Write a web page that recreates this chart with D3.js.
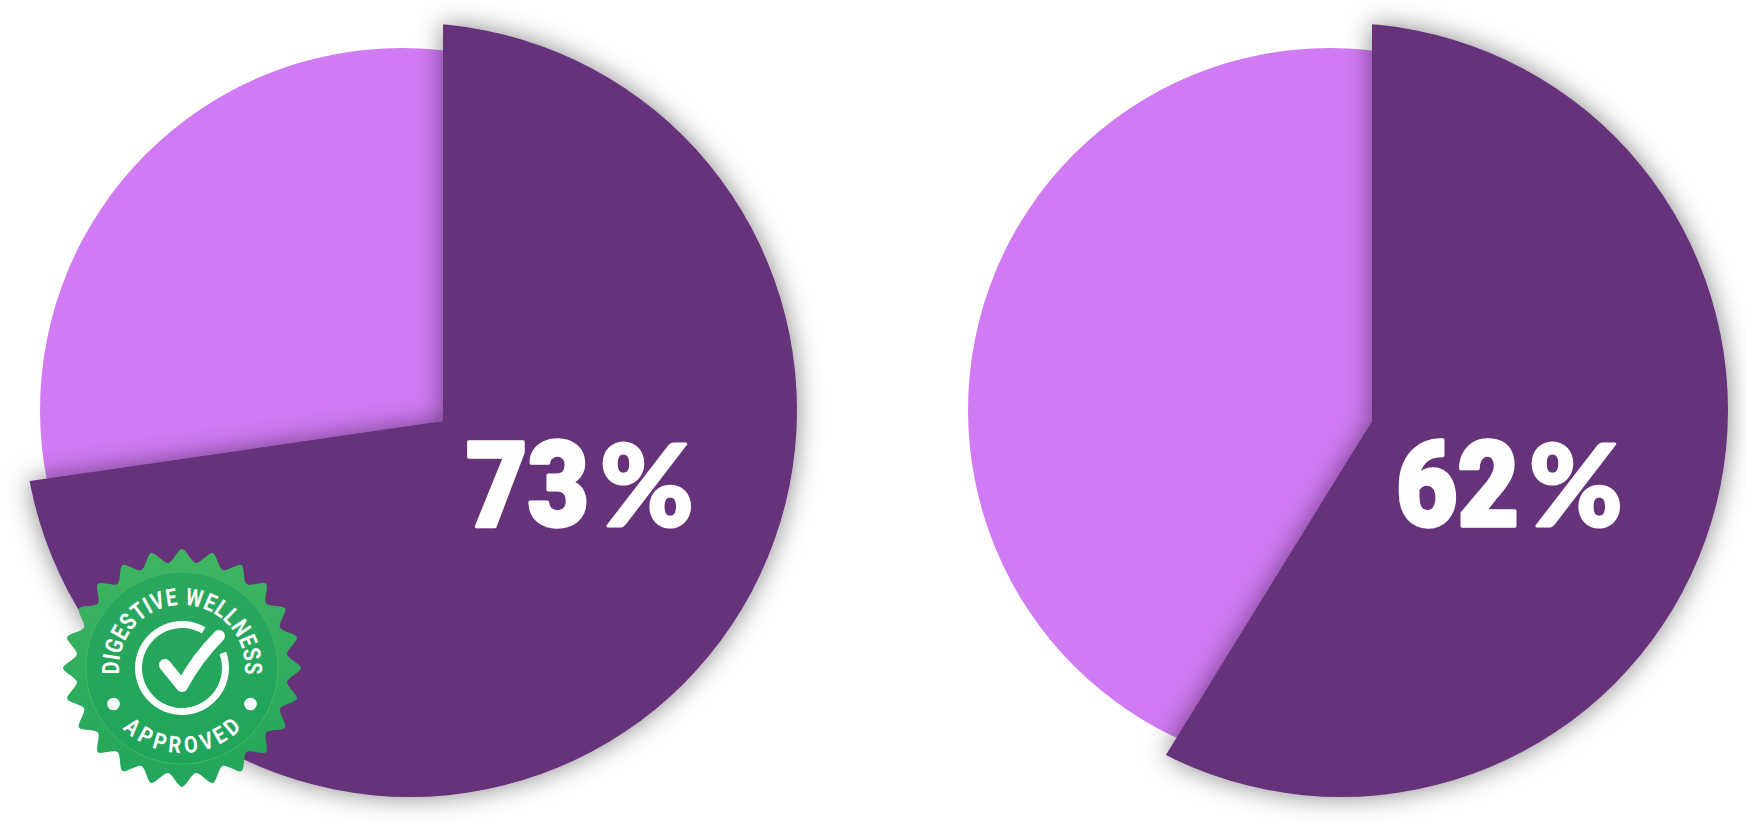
<!DOCTYPE html>
<html><head><meta charset="utf-8">
<script src="https://cdn.jsdelivr.net/npm/d3@7"></script>
<style>html,body{margin:0;background:#fff;overflow:hidden}svg{display:block}</style>
</head><body><svg id="c" width="1746" height="823"></svg>
<script>
const labels = ["73", "62"];
const labelSuffix = "%";
const darkShare = [72.7, 58.8];   // share of the circle as actually drawn
const darkColor = "#663079", lightColor = "#d07af3";
const badgeTop = "DIGESTIVE WELLNESS", badgeBottom = "APPROVED";

const svg = d3.select("#c"), defs = svg.append("defs");
const f = defs.append("filter").attr("id","sh").attr("x","-20%").attr("y","-20%").attr("width","140%").attr("height","140%");
f.append("feDropShadow").attr("dx",0).attr("dy",0).attr("stdDeviation",13).attr("flood-color","#000").attr("flood-opacity",0.47);

const layouts = [
 {apex:[443,421], light:[402,410,362], dark:[410,410,387], digitsEnd:589, pctStart:600, baseline:526, size:118},
 {apex:[1372,421], light:[1330,410,362], dark:[1341,410,387], digitsEnd:1519, pctStart:1529, baseline:526, size:118}
];
const pie = d3.pie().sort(null);
const arc = d3.arc().innerRadius(0).outerRadius(900);

layouts.forEach((L,i)=>{
  const slices = pie([darkShare[i], 100-darkShare[i]]);
  defs.append("clipPath").attr("id","cl"+i).append("circle").attr("cx",L.light[0]-L.apex[0]).attr("cy",L.light[1]-L.apex[1]).attr("r",L.light[2]);
  defs.append("clipPath").attr("id","cd"+i).append("circle").attr("cx",L.dark[0]-L.apex[0]).attr("cy",L.dark[1]-L.apex[1]).attr("r",L.dark[2]);
  const g = svg.append("g").attr("transform",`translate(${L.apex})`);
  g.append("g").attr("clip-path",`url(#cl${i})`).append("path")
    .attr("d",arc({startAngle:slices[1].startAngle-0.02,endAngle:slices[1].endAngle+0.02})).attr("fill",lightColor);
  g.append("g").attr("filter","url(#sh)").append("g").attr("clip-path",`url(#cd${i})`).append("path")
    .attr("d",arc(slices[0])).attr("fill",darkColor);
  svg.append("text").attr("transform",`translate(${L.digitsEnd},${L.baseline}) scale(0.9,1)`).attr("text-anchor","end")
    .attr("font-family","Roboto").attr("font-weight",900).attr("font-size",L.size)
    .attr("fill","#fff").attr("stroke","#fff").attr("stroke-width",3.5).attr("stroke-linejoin","round").text(labels[i]);
  svg.append("text").attr("transform",`translate(${L.pctStart},${L.baseline})`).attr("text-anchor","start")
    .attr("font-family","Lato").attr("font-weight",900).attr("font-size",L.size*0.96)
    .attr("fill","#fff").attr("stroke","#fff").attr("stroke-width",3).attr("stroke-linejoin","round").text(labelSuffix);
});

// badge
const bx=182, by=668, points=24;
const badge = svg.append("g").attr("transform",`translate(${bx},${by})`);
const grad = defs.append("linearGradient").attr("id","bg").attr("x1",0).attr("y1",0).attr("x2",0).attr("y2",1);
grad.append("stop").attr("offset",0).attr("stop-color","#3fb561");
grad.append("stop").attr("offset",1).attr("stop-color","#22a65b");
const grad2 = defs.append("linearGradient").attr("id","bg2").attr("x1",0).attr("y1",0).attr("x2",0).attr("y2",1);
grad2.append("stop").attr("offset",0).attr("stop-color","#2aa85e");
grad2.append("stop").attr("offset",1).attr("stop-color","#1fa55a");
const starPts = d3.range(points*2).map(k=>{
  const a=k*Math.PI/points - Math.PI/2, r=k%2?106:119;
  return [r*Math.cos(a), r*Math.sin(a)];
});
badge.append("path").attr("d",d3.line().curve(d3.curveCardinalClosed.tension(0.15))(starPts)).attr("fill","url(#bg)");
badge.append("circle").attr("r",96).attr("fill","url(#bg2)").attr("stroke","#45b868").attr("stroke-width",1);

// curved lettering, one real text element per letter, narrowed to the condensed look
function curved(str, radius, spanDeg, size, sx, bottom){
  const gg = badge.append("g").attr("font-family","Roboto").attr("font-weight",700).attr("font-size",size).attr("fill","#fff");
  const letters = gg.selectAll("text").data(str.split("")).join("text").attr("text-anchor","middle").text(d=>d);
  const w = []; letters.each(function(){ w.push(Math.max(this.getComputedTextLength(), size*0.28)); });
  const total = d3.sum(w);
  let acc = 0;
  letters.attr("transform",(d,k)=>{
    const mid = (acc + w[k]/2)/total - 0.5; acc += w[k];
    const deg = mid*spanDeg;
    return bottom
      ? `rotate(${-deg}) translate(0,${radius}) scale(${sx},1)`
      : `rotate(${deg}) translate(0,${-radius}) scale(${sx},1)`;
  });
}
curved(badgeTop, 63, 192, 24, 0.82, false);
curved(badgeBottom, 85, 92, 23, 0.86, true);

[-1,1].forEach(s=>badge.append("circle").attr("cx",s*68.5).attr("cy",36).attr("r",6.3).attr("fill","#fff"));
badge.append("path").attr("d",d3.arc().innerRadius(40).outerRadius(47).startAngle(1.22).endAngle(2*Math.PI+0.52)()).attr("fill","#fff");
badge.append("path").attr("d","M-17,-3 L0,18 Q15,-10 37,-32").attr("fill","none").attr("stroke","#fff").attr("stroke-width",12).attr("stroke-linecap","round").attr("stroke-linejoin","round");
</script></body></html>
